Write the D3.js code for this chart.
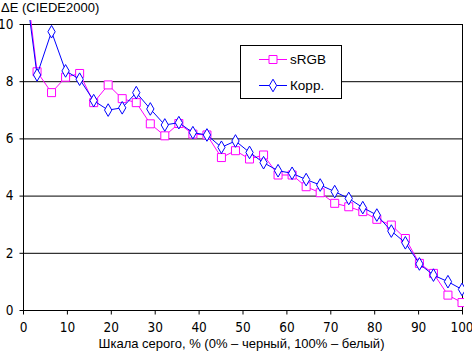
<!DOCTYPE html>
<html><head><meta charset="utf-8">
<script src="https://cdn.jsdelivr.net/npm/d3@7"></script>
<style>
html,body{margin:0;padding:0;background:#fff;}
svg{display:block;font-family:"Liberation Sans",Arial,sans-serif;}
</style></head>
<body>
<svg id="c" width="472" height="353"></svg>
<script>
const grey = [0,3.2,6.5,9.7,12.9,16.1,19.4,22.6,25.8,29.0,32.3,35.5,38.7,41.9,45.2,48.4,51.6,54.8,58.1,61.3,64.5,67.7,71.0,74.2,77.4,80.6,83.9,87.1,90.3,93.5,96.8,100];
const srgb = [12.4,8.33,7.6,8.14,8.27,7.25,7.87,7.39,7.25,6.51,6.09,6.52,6.15,6.12,5.33,5.57,5.28,5.42,4.72,4.72,4.31,4.1,3.73,3.61,3.44,3.17,2.97,2.5,1.63,1.28,0.52,0.26];
const korr = [12.0,8.22,9.73,8.36,8.07,7.32,6.99,7.07,7.6,7.03,6.47,6.55,6.2,6.12,5.69,5.91,5.51,5.15,4.87,4.78,4.56,4.37,4.14,3.9,3.58,3.32,2.76,2.35,1.61,1.22,0.99,0.72];
const xTicks = [0,10,20,30,40,50,60,70,80,90,100];
const yTicks = [0,2,4,6,8,10];
const seriesNames = ["sRGB","Корр."];
const yTitle = "ΔE (CIEDE2000)";
const xTitle = "Шкала серого, % (0% – черный, 100% – белый)";

const svg = d3.select("#c");
const L=23, R=462, T=24, B=310;
const x = d3.scaleLinear().domain([0,100]).range([L,R]);
const y = d3.scaleLinear().domain([0,10]).range([B,T]);
const tickFont = "'Liberation Sans Narrow', 'Arial Narrow', 'DejaVu Sans Condensed', sans-serif";

// gridlines
svg.append("g").selectAll("line").data(yTicks.filter(d=>d>0)).join("line")
  .attr("x1",L).attr("x2",R).attr("y1",d=>y(d)+0.5).attr("y2",d=>y(d)+0.5)
  .attr("stroke","#000").attr("stroke-width",1);
// right border
svg.append("line").attr("x1",R+0.5).attr("x2",R+0.5).attr("y1",y(10)).attr("y2",B)
  .attr("stroke","#000");

// axes
const xAxis = d3.axisBottom(x).tickValues(xTicks).tickSize(4).tickSizeOuter(0).tickPadding(8);
const gx = svg.append("g").attr("transform",`translate(0,${B+0.5})`).call(xAxis);
const yAxis = d3.axisLeft(y).tickValues(yTicks).tickSize(4).tickSizeOuter(0).tickPadding(6);
const gy = svg.append("g").attr("transform",`translate(${L+0.5},0)`).call(yAxis);
[gx,gy].forEach(g=>{
  g.selectAll("path,line").attr("stroke","#000");
  g.selectAll("text").attr("fill","#000").attr("font-size",13.5).attr("font-family",tickFont);
});
gx.selectAll(".tick text").filter(d=>d===100).attr("dx",-0.5);
gx.select(".domain").attr("d",`M${L},0H${R+1}`);
gy.select(".domain").attr("d",`M0,${y(10)}V${B}`);

// clip
svg.append("clipPath").attr("id","clip").append("rect")
  .attr("x",L).attr("y",20).attr("width",R-L+2).attr("height",B-20+2);

const data = [
  {name:seriesNames[0], vals:srgb, color:"#ff00ff", sym:d3.symbolSquare, size:64},
  {name:seriesNames[1], vals:korr, color:"#0000ff", sym:d3.symbolDiamond, size:46}
];
const line = d3.line().x((d,i)=>x(grey[i])).y(d=>y(d));
const plot = svg.append("g").attr("clip-path","url(#clip)");
data.forEach(s=>{
  plot.append("path").attr("d",line(s.vals)).attr("fill","none")
    .attr("stroke",s.color).attr("stroke-width",1);
  plot.append("g").selectAll("path").data(s.vals).join("path")
    .attr("transform",(d,i)=>`translate(${x(grey[i])},${y(d)})`)
    .attr("d",d3.symbol().type(s.sym).size(s.size))
    .attr("fill","#fff").attr("stroke",s.color).attr("stroke-width",1);
});

// legend
const lg = svg.append("g");
lg.append("rect").attr("x",240.5).attr("y",45.5).attr("width",101).attr("height",53)
  .attr("fill","#fff").attr("stroke","#000");
data.forEach((s,i)=>{
  const yy = 59.5 + i*26;
  lg.append("line").attr("x1",259).attr("x2",287).attr("y1",yy).attr("y2",yy)
    .attr("stroke",s.color);
  lg.append("path").attr("transform",`translate(273,${yy})`)
    .attr("d",d3.symbol().type(s.sym).size(s.size))
    .attr("fill","#fff").attr("stroke",s.color);
  lg.append("text").attr("x",290).attr("y",yy+4.5).attr("font-size",13.5).text(s.name);
});

// titles
svg.append("text").attr("x",1).attr("y",12).attr("font-size",13).text(yTitle);
svg.append("text").attr("x",(L+R)/2-1).attr("y",348).attr("text-anchor","middle")
  .attr("font-size",13).text(xTitle);
</script>
</body></html>
